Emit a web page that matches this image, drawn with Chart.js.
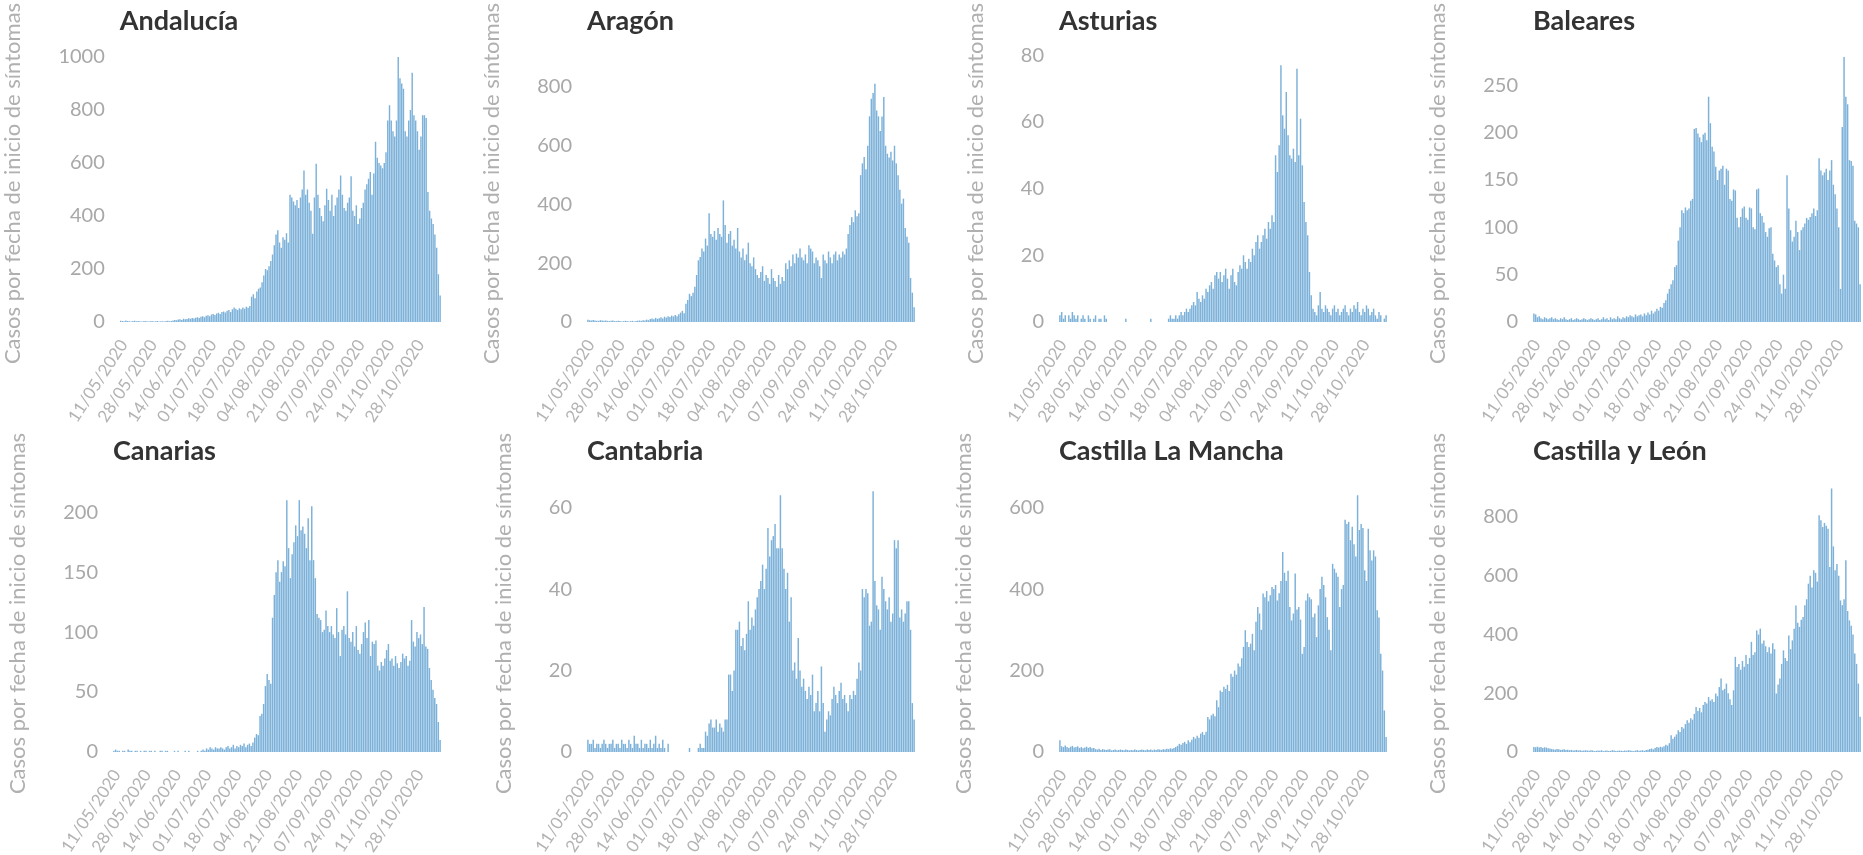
<!DOCTYPE html>
<html><head><meta charset="utf-8">
<script src="https://cdn.jsdelivr.net/npm/chart.js@4.4.0/dist/chart.umd.min.js"></script>
<style>
html,body{margin:0;padding:0;background:#fff;overflow:hidden;width:1863px;height:855px;position:relative;}
.p{position:absolute;width:473px;height:430px;}
</style></head><body>
<script>
// ---- categories ----
const DAY_COUNT = 184;          // 11/05/2020 .. 10/11/2020
const TICK_EVERY = 17;          // one tick label every 17 days
function buildDates(){
  const out = [];
  for (let i = 0; i < DAY_COUNT; i++) {
    const d = new Date(Date.UTC(2020, 4, 11 + i));
    out.push(String(d.getUTCDate()).padStart(2,'0') + '/' + String(d.getUTCMonth()+1).padStart(2,'0') + '/' + d.getUTCFullYear());
  }
  return out;
}
const DATES = buildDates();

// ---- series values (cases per day of symptom onset) ----
const ANDALUCIA = [
5,4,3,6,4,3,2,4,5,3,
4,3,2,3,4,3,2,3,4,2,
3,4,2,3,3,2,4,5,3,4,
6,8,7,9,10,8,12,10,11,14,
12,15,13,16,18,15,20,22,18,24,
25,22,28,30,26,32,35,30,38,40,
36,42,45,38,48,55,50,45,52,48,
55,50,58,54,60,95,105,90,115,125,
130,150,175,200,195,210,230,255,290,330,
346,300,280,320,310,335,300,480,470,455,
440,460,430,470,500,572,480,500,450,420,
333,470,597,480,430,400,380,440,503,460,
420,480,400,440,470,500,553,480,430,420,
450,470,550,420,400,440,370,390,430,450,
500,520,540,566,480,560,680,620,600,590,
580,600,640,760,818,760,720,700,760,1000,
920,900,880,720,700,760,800,940,780,760,
720,650,700,780,780,770,490,420,390,370,
330,280,180,100];

const ARAGON = [
8,6,5,7,5,4,4,6,5,4,
5,4,3,4,5,3,3,4,3,2,
3,4,3,2,3,4,2,3,4,5,
4,6,5,8,6,10,12,9,14,11,
13,16,12,18,15,20,17,22,19,24,
20,26,32,38,30,62,75,96,88,100,
120,160,210,221,250,240,284,260,370,300,
290,310,280,320,300,290,414,330,270,300,
310,260,280,250,320,240,220,250,210,230,
270,200,190,220,180,160,150,170,190,140,
160,150,130,180,150,140,120,160,130,153,
140,200,180,210,190,230,200,233,220,250,
220,210,230,200,261,250,240,200,220,210,
190,150,230,210,200,240,220,200,230,240,
210,230,220,240,230,250,300,330,357,340,
380,360,370,500,540,562,520,600,700,760,
780,811,720,700,650,700,766,600,573,560,
580,550,600,540,500,450,403,420,320,290,
270,150,100,50];

const ASTURIAS = [
2,3,1,2,0,2,1,3,2,1,
2,0,1,2,1,0,2,1,0,1,
2,0,1,1,0,2,1,0,0,0,
0,0,0,0,0,0,0,1,0,0,
0,0,0,0,0,0,0,0,0,0,
0,1,0,0,0,0,0,0,0,0,
0,1,2,1,1,2,1,2,3,2,
3,4,3,4,5,6,5,9,7,6,
8,7,10,9,11,12,10,14,15,13,
15,12,14,16,13,10,14,16,12,11,
15,17,16,20,18,16,19,18,22,20,
24,26,22,24,26,28,25,30,28,32,
30,50,45,53,77,62,58,69,56,50,
49,52,48,76,50,61,47,36,30,26,
15,8,4,3,2,5,9,4,3,5,
4,3,2,4,5,3,4,2,3,4,
5,3,2,4,3,5,4,6,3,2,
4,3,5,4,2,3,4,2,1,3,
2,0,1,2];

const BALEARES = [
9,8,5,6,4,3,5,4,3,4,
5,3,4,3,2,4,3,5,3,2,
3,4,2,3,4,3,2,3,4,3,
2,3,4,3,2,3,4,2,3,5,
3,4,2,5,3,4,3,6,4,3,
5,4,6,5,7,6,5,8,6,7,
8,6,9,7,10,8,12,9,11,14,
12,16,15,20,23,30,35,40,44,58,
60,86,100,118,115,121,118,120,128,130,
204,205,199,195,190,198,200,192,238,210,
185,180,164,150,160,162,165,145,162,160,
130,128,140,139,110,100,111,120,122,110,
108,121,120,100,98,140,141,115,112,105,
95,90,99,100,72,65,58,60,40,30,
50,35,155,120,97,85,90,107,95,76,
97,100,104,110,108,111,115,120,112,118,
173,160,155,158,162,150,160,171,145,135,
120,100,35,206,280,238,230,171,170,165,
107,104,100,40];

const CANARIAS = [
1,2,1,1,0,1,1,0,2,1,
1,0,1,1,0,1,0,1,1,0,
1,1,0,1,0,0,1,1,0,1,
1,0,0,0,1,0,1,0,0,0,
1,0,1,0,0,0,0,1,0,1,
2,1,3,2,4,3,2,4,3,3,
4,3,2,4,5,3,4,6,3,5,
4,6,5,7,4,6,7,5,8,12,
15,14,30,32,40,55,65,60,57,112,
131,150,160,142,150,159,155,210,170,145,
165,175,189,180,210,185,188,182,170,195,
160,205,160,145,115,112,110,100,102,118,
105,100,105,98,95,120,100,80,102,105,
98,134,95,92,100,88,105,85,82,90,
100,108,95,110,80,92,90,93,72,68,
75,72,78,85,90,76,78,72,80,74,
70,75,82,78,80,72,76,110,92,88,
100,95,98,90,121,88,86,70,60,52,
45,40,25,10];

const CANTABRIA = [
3,2,2,3,1,2,2,1,2,3,
2,1,2,2,3,1,2,2,1,3,
2,2,1,3,2,1,4,2,2,1,
3,1,2,2,1,3,1,2,4,1,
2,1,3,1,0,2,0,0,0,0,
0,0,0,0,0,0,0,1,0,0,
0,0,1,2,1,1,5,4,7,8,
6,6,8,5,7,6,5,8,8,19,
19,15,20,30,30,32,26,28,25,29,
37,30,33,31,35,38,40,42,46,40,
45,55,48,52,53,56,50,50,63,50,
45,40,44,32,38,20,22,18,28,20,
16,18,15,13,16,14,19,10,12,15,
10,21,12,5,8,10,9,13,16,14,
12,15,17,13,14,12,10,14,13,15,
14,18,22,20,40,38,40,39,31,32,
64,42,36,35,30,43,40,37,35,38,
32,34,52,50,52,33,35,32,34,37,
37,30,12,8];

const CASTILLA_LA_MANCHA = [
29,14,12,16,12,10,13,15,11,12,
14,10,12,9,11,13,10,12,9,10,
7,6,8,5,7,6,5,6,7,4,
5,6,4,5,6,5,4,6,5,4,
5,4,6,5,4,5,6,5,4,6,
5,6,4,6,5,7,6,5,7,6,
8,7,9,8,10,12,15,20,18,22,
25,20,29,24,30,37,33,40,35,45,
49,42,50,86,80,90,94,88,127,110,
151,147,160,155,165,150,192,185,200,190,
217,210,230,258,299,270,258,266,290,250,
320,356,340,300,389,380,395,370,385,405,
400,410,372,390,420,491,440,420,445,356,
323,340,438,350,356,325,241,258,372,389,
380,375,331,340,282,360,400,430,410,380,
331,300,250,462,450,440,430,356,400,410,
570,560,565,520,553,510,480,630,545,560,
550,446,420,548,495,470,495,480,348,330,
241,200,102,37];

const CASTILLA_Y_LEON = [
17,16,18,15,17,14,16,15,13,12,
10,9,8,10,9,7,8,9,7,8,
6,7,5,6,7,5,6,4,5,6,
5,4,6,5,3,4,5,4,6,3,
4,5,3,4,6,5,3,4,5,4,
3,5,4,6,5,4,3,5,6,4,
5,6,4,7,8,10,12,9,14,17,
15,18,16,20,25,22,30,57,45,52,
60,74,68,85,80,95,108,100,115,110,
130,153,140,150,135,160,170,165,187,175,
180,170,199,190,221,250,210,215,233,200,
180,160,210,324,289,300,280,310,290,330,
300,320,375,330,340,414,400,420,369,380,
360,340,357,335,370,350,199,230,250,300,
346,320,310,397,350,380,420,499,440,426,
450,460,500,520,573,600,560,619,610,580,
806,789,766,780,770,760,630,897,700,619,
640,600,516,500,520,653,480,448,430,400,
335,300,233,120];

// ---- panel definitions ----
const TITLES = ['Andalucía','Aragón','Asturias','Baleares','Canarias','Cantabria','Castilla La Mancha','Castilla y León'];
const SERIES = [ANDALUCIA, ARAGON, ASTURIAS, BALEARES, CANARIAS, CANTABRIA, CASTILLA_LA_MANCHA, CASTILLA_Y_LEON];
const Y_MAX  = [1045, 943, 83.1, 292.6, 231, 68, 680, 943];
const Y_STEP = [200, 200, 20, 50, 50, 20, 200, 200];
const Y_TITLE = 'Casos por fecha de inicio de síntomas';

const COL_LEFT = [0, 474, 946, 1420];
const ROW_TOP = [0, 430];
const AREA_LEFT = 113;
const BAR_COLOR = '#7cb1d9';

const titlePlugin = {
  id: 'panelTitle',
  afterDraw(chart, args, opts) {
    const {ctx, chartArea} = chart;
    ctx.save();
    ctx.font = 'bold 27px Lato';
    ctx.fillStyle = '#333333';
    ctx.textAlign = 'left';
    ctx.textBaseline = 'middle';
    ctx.fillText(opts.text, chartArea.left, 21);
    ctx.restore();
  }
};

TITLES.forEach((title, k) => {
  const col = k % 4, row = Math.floor(k / 4);
  const div = document.createElement('div');
  div.className = 'p';
  div.style.left = COL_LEFT[col] + 'px';
  div.style.top = ROW_TOP[row] + 'px';
  const cv = document.createElement('canvas');
  cv.width = 473; cv.height = 430;
  cv.style.width = '473px'; cv.style.height = '430px';
  div.appendChild(cv);
  document.body.appendChild(div);

  const chart = new Chart(cv.getContext('2d'), {
    type: 'bar',
    data: {
      labels: DATES,
      datasets: [{
        data: SERIES[k],
        backgroundColor: BAR_COLOR,
        borderWidth: 0,
        barPercentage: 0.82,
        categoryPercentage: 1.0
      }]
    },
    options: {
      responsive: false,
      animation: false,
      devicePixelRatio: 1,
      layout: { padding: { left: 0, right: 32, top: 45, bottom: 0 } },
      plugins: {
        legend: { display: false },
        tooltip: { enabled: false },
        panelTitle: { text: title }
      },
      scales: {
        x: {
          grid: { display: false, drawTicks: false },
          border: { display: false },
          ticks: {
            autoSkip: false, minRotation: 57, maxRotation: 57, padding: 14, labelOffset: 3,
            color: '#b3b3b3', font: { family: 'Lato', size: 17 },
            callback(v, i) { return i % TICK_EVERY === 0 ? this.getLabelForValue(v) : ''; }
          },
          afterFit(s) { s.height = 108; }
        },
        y: {
          min: 0, max: Y_MAX[k],
          grid: { display: false, drawTicks: false },
          border: { display: false },
          ticks: {
            stepSize: Y_STEP[k], includeBounds: false, padding: 15,
            color: '#a8a8a8', font: { family: 'Lato', size: 20 },
            callback: v => String(v)
          },
          title: {
            display: true, text: Y_TITLE, color: '#b0b0b0',
            font: { family: 'Lato', size: 22 }, padding: { top: 0, bottom: 17 }
          }
        }
      }
    },
    plugins: [titlePlugin]
  });
  const w = chart.scales.y.width;
  chart.options.layout.padding.left = Math.max(0, AREA_LEFT - w);
  chart.update();
});
</script>
</body></html>
